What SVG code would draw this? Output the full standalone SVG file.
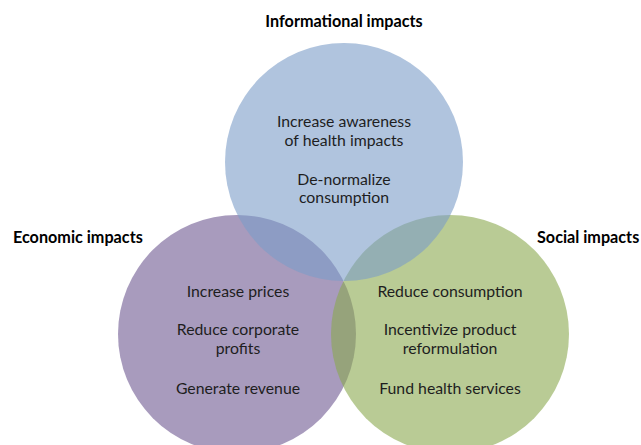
<svg xmlns="http://www.w3.org/2000/svg" width="641" height="445" viewBox="0 0 641 445">
<style>
.c{fill-opacity:0.6}
.t{font-family:Lato,"Open Sans","Liberation Sans",sans-serif;font-size:15.8px;fill:#1e1e1e;text-anchor:middle}
.h{font-family:Lato,"Open Sans","Liberation Sans",sans-serif;font-size:16.2px;font-weight:bold;fill:#000}
</style>
<rect width="641" height="445" fill="#fff"/>
<g id="economic">
<circle class="c" cx="237" cy="334" r="119" fill="#6e5891"/>
</g>
<g id="social">
<circle class="c" cx="450" cy="334" r="119" fill="#8aa84e"/>
</g>
<g id="informational">
<circle class="c" cx="344" cy="162" r="119" fill="#7b9dc8"/>
</g>
<g id="informational-text">
<text class="h" x="344" y="27" text-anchor="middle">Informational impacts</text>
<text class="t" x="344" y="127">Increase awareness</text>
<text class="t" x="344" y="146">of health impacts</text>
<text class="t" x="344" y="185">De-normalize</text>
<text class="t" x="344" y="203">consumption</text>
</g>
<g id="economic-text">
<text class="h" x="13" y="243">Economic impacts</text>
<text class="t" x="238" y="297">Increase prices</text>
<text class="t" x="238" y="335">Reduce corporate</text>
<text class="t" x="238" y="354">profits</text>
<text class="t" x="238" y="394">Generate revenue</text>
</g>
<g id="social-text">
<text class="h" x="537" y="243">Social impacts</text>
<text class="t" x="450" y="297">Reduce consumption</text>
<text class="t" x="450" y="335">Incentivize product</text>
<text class="t" x="450" y="354">reformulation</text>
<text class="t" x="450" y="394">Fund health services</text>
</g>
<g id="connectors"></g>
</svg>
